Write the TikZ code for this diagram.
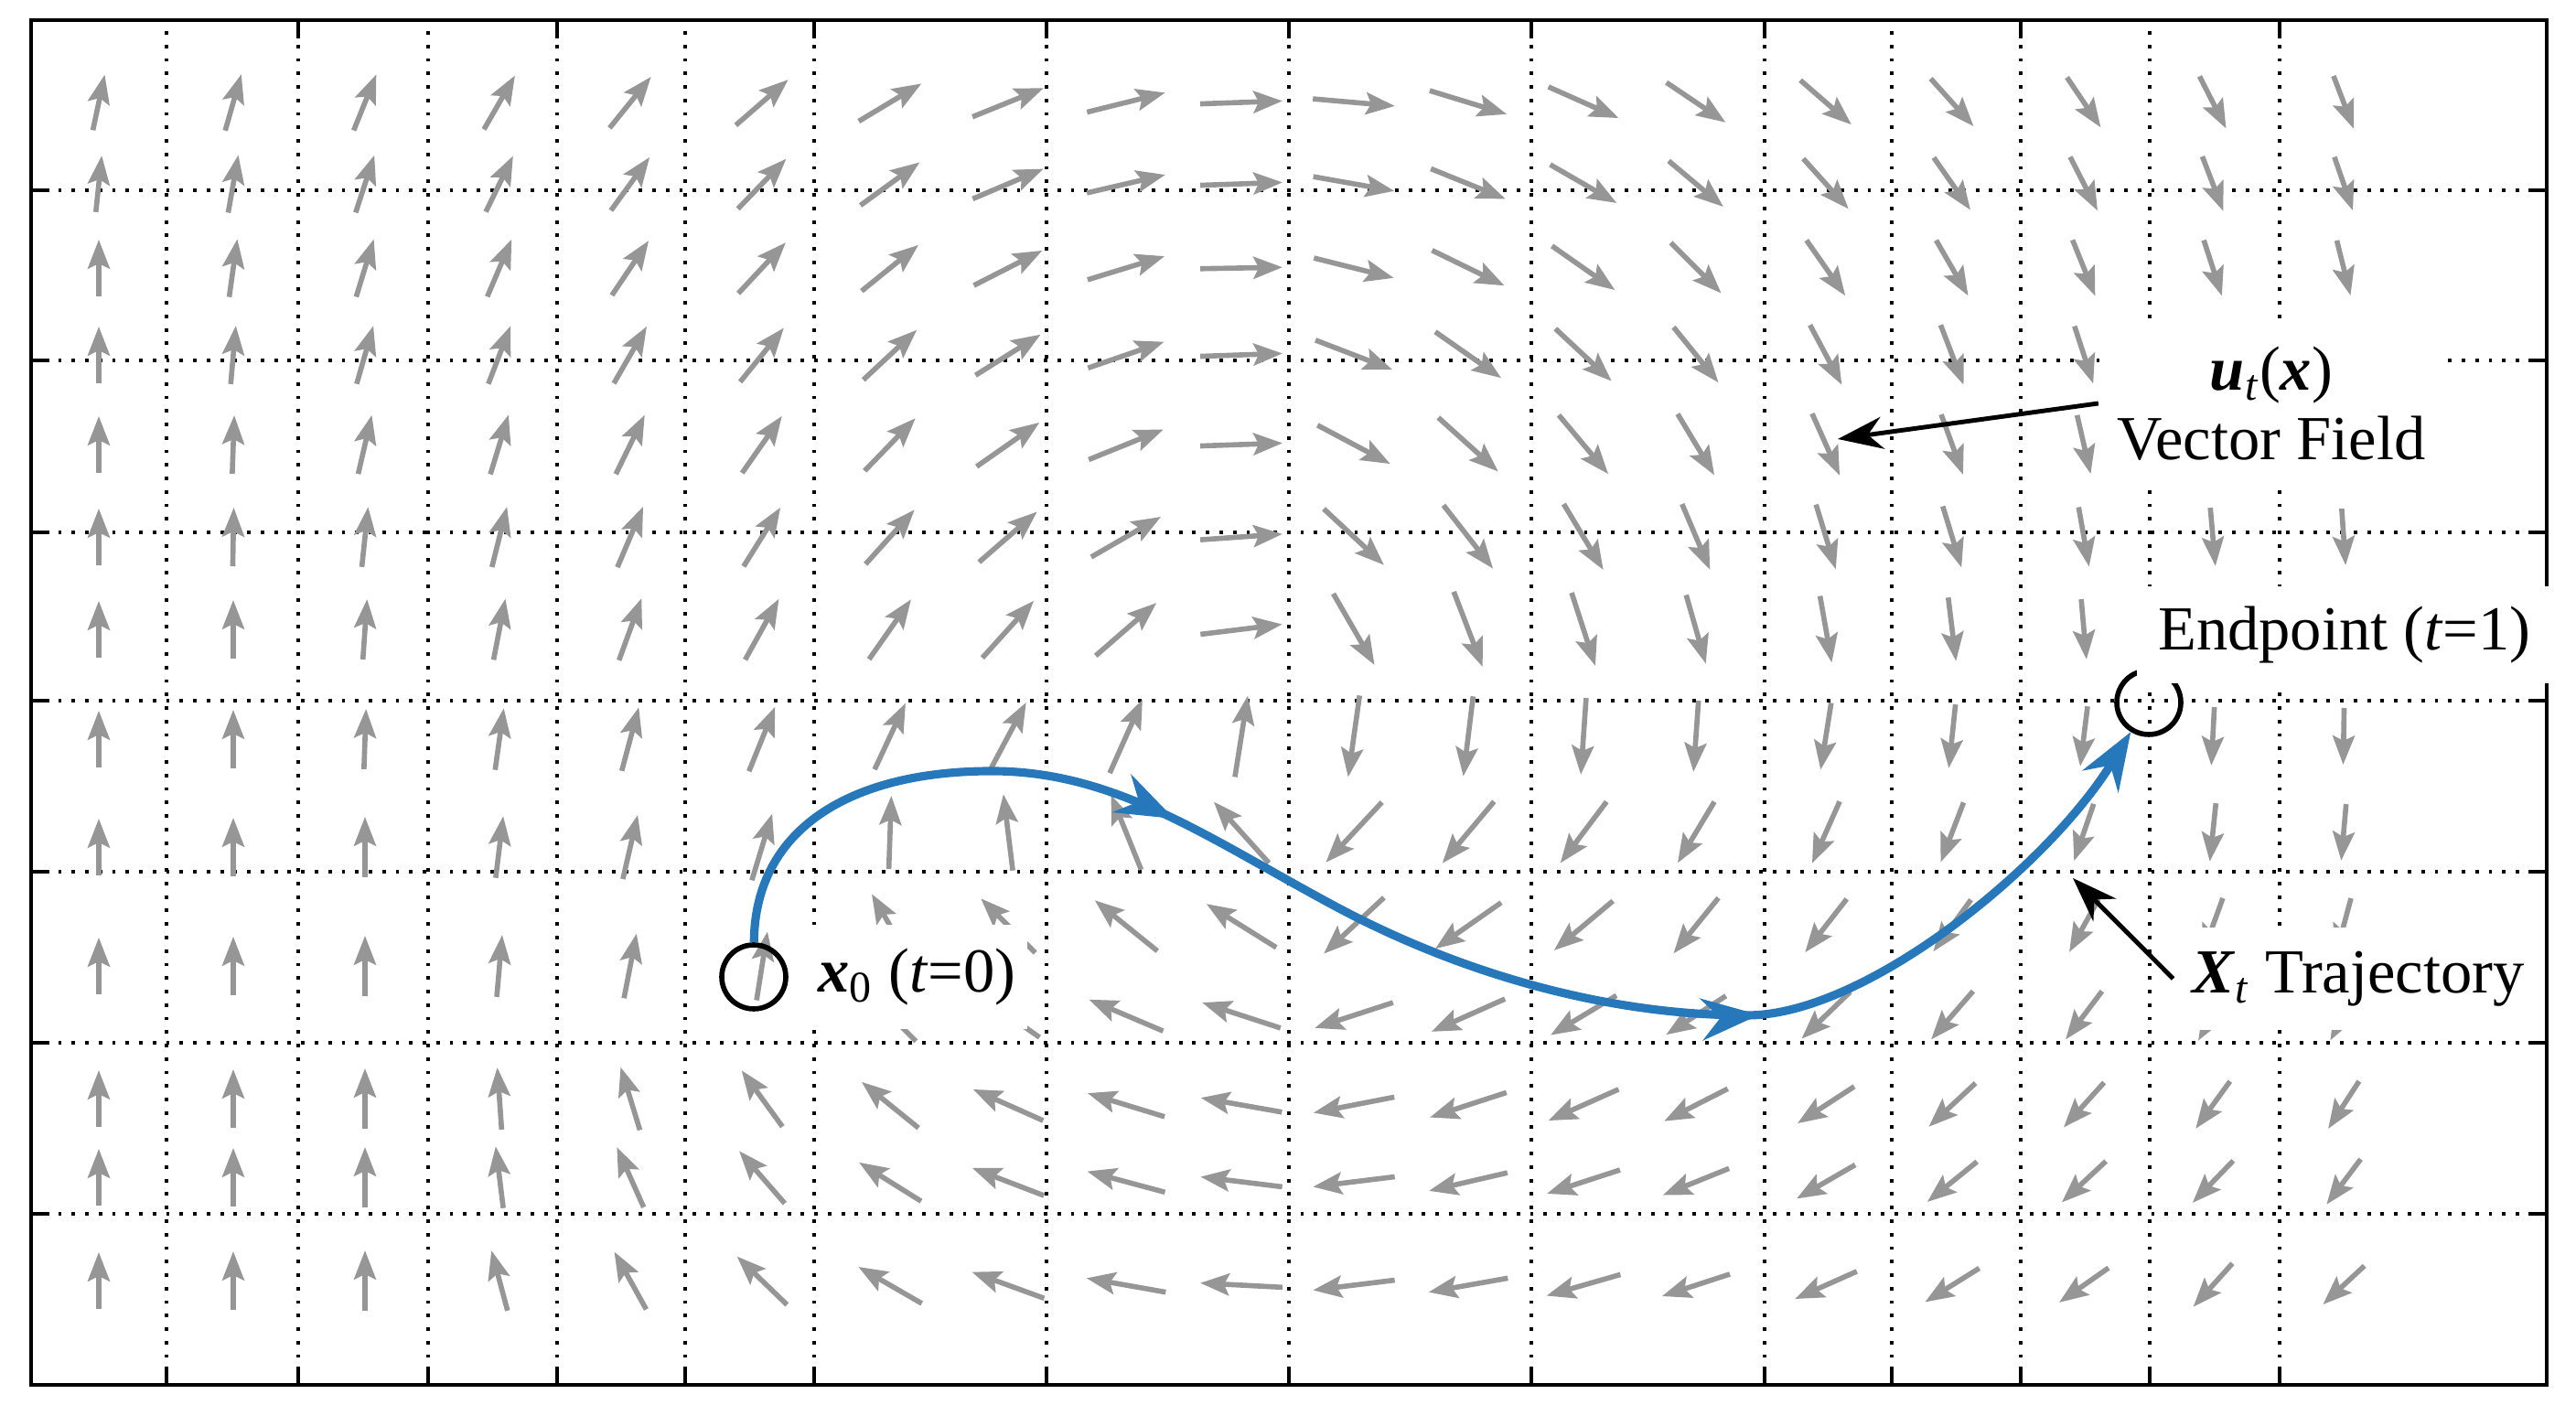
\documentclass[tikz,border=0pt]{standalone}
\usepackage{fontspec}
\setmainfont{Liberation Serif}
\usetikzlibrary{arrows.meta,decorations.markings,positioning}
\definecolor{trajblue}{RGB}{38,120,186}
\definecolor{fieldgray}{RGB}{150,150,150}

\begin{document}
\begin{tikzpicture}[
  gridline/.style={line width=1.1pt, dash pattern=on 1.1pt off 3.1pt},
  frame/.style={line width=1.2pt},
  vec/.style={fieldgray, line width=1.6pt, -{Stealth[length=9pt,width=6.8pt,inset=1.6pt]}},
  traj/.style={trajblue, line width=2.6pt, -{Stealth[length=18pt,width=13pt]}},
  pointer/.style={line width=1.4pt, -{Stealth[length=14pt,width=10pt]}},
  endpt/.style={circle, draw, line width=1.6pt, minimum size=0.7cm, inner sep=0pt},
  lab/.style={fill=white, font=\fontsize{19.5}{21.5}\selectfont}
]
\useasboundingbox (0,0) rectangle (28.16,15.36);

%dotted grid
\foreach \gx in {1.82,3.26,4.68,6.09,7.49,8.90,11.44,14.09,16.74,19.29,20.68,22.09,23.50,24.92}
  \draw[gridline] (\gx,0.22) -- (\gx,15.14);
\foreach \gy in {13.28,11.42,9.54,7.70,5.83,3.96,2.09}
  \draw[gridline] (0.34,\gy) -- (27.84,\gy);

%vector field u_t(x): row height / first column / angles
\foreach \yy/\c/\row in {
  14.24/0/{78,74,68,60,51,41,31,22,14,2,-5,-17,-24,-34,-41,-48,-56,-63,-69},
  13.35/0/{84,80,72,64,54,46,36,23,13,2,-10,-22,-30,-40,-48,-55,-63,-69,-71},
  12.43/0/{90,82,73,67,56,47,39,27,17,1,-14,-26,-35,-45,-55,-60,-68,-72,-76},
  11.48/0/{90,85,74,69,60,51,43,32,19,2,-21,-35,-43,-51,-62,-69,-72,-78,-80},
  10.50/0/{90,88,77,73,64,55,46,35,22,2,-28,-42,-50,-59,-66,-70,-77,-82,-84},
  9.49/0/{90,89,84,76,67,58,48,41,30,4,-43,-52,-59,-67,-73,-73,-80,-85,-86},
  8.48/0/{90,90,86,79,70,61,55,48,41,7,-60,-69,-72,-74,-80,-83,-85,-88,-88},
  7.28/0/{90,90,88,82,75,68},
  6.10/0/{90,90,90,83,77,73},
  4.80/0/{90,90,90,85,79,81},
  3.35/0/{90,90,90,94,107,126},
  2.49/0/{90,90,90,97,114,131},
  1.36/0/{90,90,90,105,119,136},
  7.31/6/{65,62,66,81,-98,-97,-94,-94,-99,-96,-97,-93,-91},
  6.26/6/{88,97,112,132,-133,-130,-127,-121,-114,-111,-109,-96,-95},
  5.24/6/{120,135,141,148,-137,-145,-140,-129,-128,-126,-119,-110,-105},
  4.26/6/{135,145,157,162,-162,-156,-149,-147,-136,-131,-127,-120,-118},
  3.28/6/{141,156,163,170,-169,-162,-156,-153,-147,-137,-132,-126,-123},
  2.44/6/{148,159,165,173,-173,-167,-162,-158,-150,-141,-137,-134,-127},
  1.31/6/{150,160,170,177,-173,-170,-164,-162,-156,-148,-145,-132,-137}}{
  \foreach \a [count=\i] in \row {
    \pgfmathsetmacro\xx{{1.08,2.55,3.99,5.46,6.89,8.33,9.73,11.02,12.31,13.57,14.80,16.05,17.31,18.54,19.96,21.34,22.78,24.19,25.62}[\i+\c-1]}
    \pgfmathsetmacro\ll{{0.62,0.64,0.66,0.68,0.72,0.76,0.80,0.84,0.88,0.90,0.90,0.88,0.84,0.78,0.74,0.70,0.66,0.64,0.62}[\i+\c-1]}
    \pgfmathsetmacro\hl{\ll/2}
    \draw[vec] ([shift={(\a+180:\hl)}]\xx,\yy) -- ++(\a:\ll);
  }
}

%frame with ticks
\draw[frame] (0.34,0.22) rectangle (27.84,15.14);
\foreach \gx in {1.82,3.26,4.68,6.09,7.49,8.90,11.44,14.09,16.74,19.29,20.68,22.09,23.50,24.92}
  \draw[frame] (\gx,0.22) -- ++(0,0.2);
\foreach \gx in {3.26,6.09,8.90,11.44,14.09,16.74,19.29,22.09,24.92}
  \draw[frame] (\gx,15.14) -- ++(0,-0.2);
\foreach \gy in {13.28,11.42,9.54,7.70,5.83,3.96,2.09}{
  \draw[frame] (0.34,\gy) -- ++(0.2,0);
  \draw[frame] (27.84,\gy) -- ++(-0.2,0);
}

%start and end of the trajectory
\node[endpt] (x0) at (8.24,4.68) {};
\node[endpt] (xend) at (23.49,7.68) {};

%trajectory X_t
\draw[traj, postaction={decorate}, decoration={markings,
    mark=at position 0.32 with {\arrow{Stealth[length=18pt,width=13pt]}},
    mark=at position 0.705 with {\arrow{Stealth[length=18pt,width=13pt]}}}]
  (x0) .. controls (8.25,6.3) and (9.3,6.93) .. (10.84,6.93)
  .. controls (12.2,6.93) and (13.2,6.2) .. (14.6,5.45)
  .. controls (16.0,4.7) and (17.6,4.26) .. (19.1,4.26)
  .. controls (20.4,4.26) and (22.4,5.9) .. (xend);

%labels
\coordinate (ufield) at (20.09,10.56);
\coordinate (xtraj) at (22.66,5.76);
\node[lab, align=center, inner xsep=0.2cm, inner ysep=0.3cm] (ulab) at (24.83,10.95)
  {\textbf{\textit{u}}\textsubscript{\textit{t}}(\textbf{\textit{x}})\\Vector Field};
\node[lab, minimum width=4.55cm, inner ysep=0.22cm] (endlab) at (25.63,8.42) {Endpoint (\textit{t}=1)};
\node[lab, right=0.2cm of x0, inner xsep=0.12cm, inner ysep=0.26cm] (x0lab)
  {\textbf{\textit{x}}\textsubscript{0} (\textit{t}=0)};
\node[lab, inner xsep=0.2cm, inner ysep=0.26cm] (xlab) at (25.78,4.66)
  {\textbf{\textit{X}}\textsubscript{\textit{t}} Trajectory};

\draw[pointer] (ulab.west) -- (ufield);
\draw[pointer] (xlab.west) -- (xtraj);

\end{tikzpicture}
\end{document}
